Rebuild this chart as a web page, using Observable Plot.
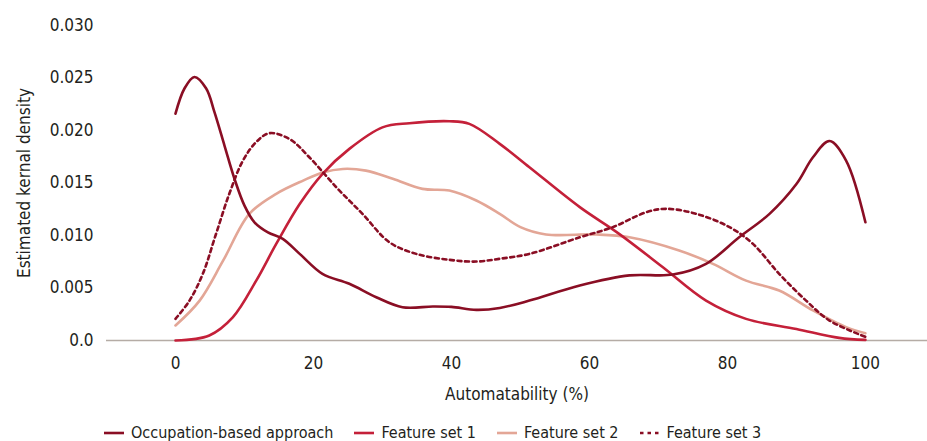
<!DOCTYPE html>
<html>
<head>
<meta charset="utf-8">
<script src="https://cdn.jsdelivr.net/npm/d3@7"></script>
<script src="https://cdn.jsdelivr.net/npm/@observablehq/plot@0.6"></script>
<style>
  html, body { margin: 0; background: #fff; overflow: hidden; }
  #chart { font-family: "DejaVu Sans Condensed", "Liberation Sans Narrow", sans-serif; color: #231f20; }
  .legend { display: flex; align-items: center; margin-left: 104px; margin-top: 19px; font-size: 16px; line-height: 16px; height: 16px; color: #231f20; }
  .legend .item { display: flex; align-items: center; margin-right: 21px; }
  .legend svg { margin-right: 7px; }
</style>
</head>
<body>
<div id="chart"></div>
<script>
const seriesNames = ["Occupation-based approach", "Feature set 1", "Feature set 2", "Feature set 3"];
const seriesColors = ["#8a0e24", "#c42039", "#e3a696", "#8a0e24"];

const xOcc = [0, 1.3, 2.75, 4.45, 5.65, 7.1, 8.55, 10, 11.45, 13.4, 15.55, 18, 21.3, 25.2, 29.1, 32.9, 37.3, 40, 43.6, 47, 51.3, 58.6, 65.8, 72.1, 76.9, 81.7, 86.1, 90, 92.4, 94.8, 97.2, 100];
const yOcc = [0.0216, 0.0240, 0.0251, 0.0240, 0.02175, 0.01857, 0.0154, 0.01285, 0.01126, 0.0103, 0.00968, 0.00825, 0.00635, 0.0054, 0.00412, 0.00317, 0.00324, 0.0032, 0.00292, 0.0031, 0.0038, 0.00524, 0.0062, 0.00628, 0.0073, 0.00983, 0.01206, 0.0149, 0.01745, 0.0190, 0.01714, 0.01126];

const xFs1 = [0, 4.9, 8.3, 11.7, 14.6, 18, 21.35, 25.2, 30, 33.9, 39.7, 42.6, 47, 51.3, 58.6, 64.3, 70.6, 76.9, 82.7, 90, 96.2, 100];
const yFs1 = [0.0, 0.00048, 0.0022, 0.0057, 0.0092, 0.013, 0.0159, 0.01825, 0.0203, 0.02069, 0.02088, 0.02063, 0.01873, 0.0165, 0.0127, 0.01016, 0.007, 0.0038, 0.00206, 0.0011, 0.00025, 0.00006];

const xFs2 = [0, 3.5, 6.9, 10.7, 14.6, 18.5, 21.35, 24.25, 27.6, 31.5, 35.8, 39.7, 43.6, 47, 50, 53.7, 61, 65.8, 73, 77.9, 82.7, 87.5, 92.4, 97.2, 100];
const yFs2 = [0.00143, 0.0038, 0.0076, 0.01206, 0.01397, 0.01523, 0.016, 0.01634, 0.01618, 0.0154, 0.01444, 0.01428, 0.01333, 0.01206, 0.0108, 0.0101, 0.0101, 0.00983, 0.00857, 0.0073, 0.0057, 0.00476, 0.00286, 0.00127, 0.0007];

const xFs3 = [0, 2.03, 3.96, 5.9, 7.8, 9.75, 11.7, 13.6, 16.5, 19.4, 23.3, 27.1, 31, 34.9, 39.7, 43.6, 47, 51.3, 58.6, 63.4, 68.2, 71.1, 75.5, 80.3, 83.7, 87.5, 91.4, 94.8, 100];
const yFs3 = [0.00206, 0.0038, 0.00635, 0.0102, 0.01397, 0.0171, 0.0189, 0.01974, 0.0192, 0.01745, 0.0146, 0.01206, 0.00936, 0.00825, 0.00768, 0.00752, 0.00778, 0.00825, 0.00983, 0.0108, 0.01221, 0.01254, 0.01206, 0.0108, 0.0092, 0.00635, 0.0038, 0.0019, 0.00035];

const yTicks = [0, 0.005, 0.010, 0.015, 0.020, 0.025, 0.030];
const xTicks = [0, 20, 40, 60, 80, 100];

const xs = [xOcc, xFs1, xFs2, xFs3];
const ys = [yOcc, yFs1, yFs2, yFs3];
const rows = seriesNames.map((name, i) => xs[i].map((x, j) => ({series: name, x, y: ys[i][j]})));

const font = "'DejaVu Sans Condensed', 'Liberation Sans Narrow', sans-serif";

const lineMark = (i, extra = {}) => Plot.line(rows[i], {
  x: "x", y: "y", stroke: seriesColors[i], strokeWidth: 2.6, curve: "catmull-rom", ...extra
});

const chart = Plot.plot({
  width: 927,
  height: 406,
  marginLeft: 106,
  marginRight: 0,
  marginTop: 25,
  marginBottom: 66,
  style: {fontFamily: font, fontSize: "17px", color: "#231f20", background: "#fff"},
  x: {domain: [-10, 109], ticks: xTicks, tickSize: 0, tickPadding: 16, label: "Automatability (%)", labelAnchor: "center", labelArrow: "none", labelOffset: 59},
  y: {domain: [0, 0.03], ticks: yTicks, tickSize: 0, tickPadding: 13, tickFormat: d => d === 0 ? "0.0" : d.toFixed(3), label: "Estimated kernal density", labelAnchor: "center", labelArrow: "none", labelOffset: 89},
  marks: [
    Plot.ruleY([0], {stroke: "#b5aca5", strokeWidth: 1.5}),
    lineMark(2),
    lineMark(1),
    lineMark(3, {strokeDasharray: "4,3.6"}),
    lineMark(0)
  ]
});
document.getElementById("chart").appendChild(chart);

const legend = document.createElement("div");
legend.className = "legend";
legend.style.fontFamily = font;
seriesNames.forEach((name, i) => {
  const item = document.createElement("div");
  item.className = "item";
  const dash = i === 3 ? 'stroke-dasharray="3.5,4"' : "";
  item.innerHTML = `<svg width="20" height="10"><line x1="0" y1="5" x2="20" y2="5" stroke="${seriesColors[i]}" stroke-width="2.6" ${dash}/></svg><span>${name}</span>`;
  legend.appendChild(item);
});
document.getElementById("chart").appendChild(legend);
</script>
</body>
</html>
